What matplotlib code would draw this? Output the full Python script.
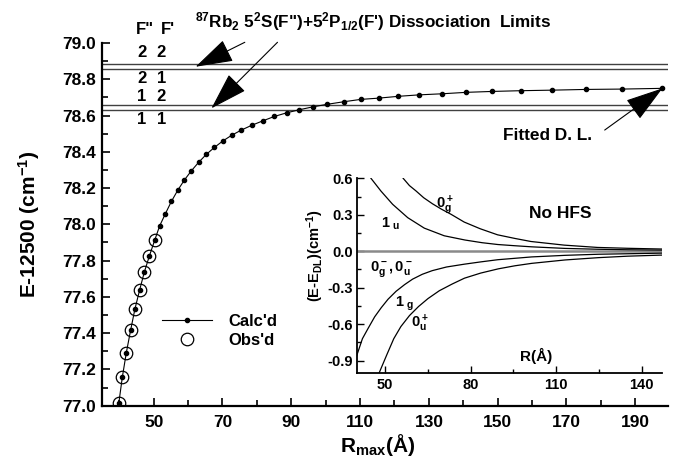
import matplotlib
matplotlib.use("Agg")
import matplotlib.pyplot as plt
from matplotlib.lines import Line2D

plt.rcParams['font.family'] = ['Liberation Sans', 'DejaVu Sans']
plt.rcParams['font.weight'] = 'bold'
plt.rcParams['mathtext.fontset'] = 'custom'
plt.rcParams['mathtext.rm'] = 'Liberation Sans:bold'
plt.rcParams['mathtext.it'] = 'Liberation Sans:bold'
plt.rcParams['mathtext.bf'] = 'Liberation Sans:bold'
plt.rcParams['mathtext.sf'] = 'Liberation Sans:bold'

# ---- main data ----
calc_r = [39.9, 40.9, 42.06, 43.31, 44.56, 45.93, 47.3, 48.75, 50.3, 51.74, 53.4,
          55.15, 56.98, 58.92, 60.96, 63.08, 65.32, 67.65, 70.06, 72.67, 75.49,
          78.49, 81.77, 85.09, 88.66, 92.35, 96.31, 100.44, 105.23, 110.17,
          115.41, 121.13, 127.12, 133.81, 140.9, 148.46, 156.69, 165.78, 175.58,
          186.25, 197.88]
calc_e = [77.017, 77.157, 77.292, 77.416, 77.533, 77.638, 77.737, 77.825, 77.912,
          77.991, 78.058, 78.126, 78.187, 78.244, 78.295, 78.342, 78.386, 78.424,
          78.459, 78.491, 78.520, 78.546, 78.571, 78.595, 78.615, 78.632, 78.648,
          78.662, 78.676, 78.689, 78.696, 78.706, 78.714, 78.720, 78.728, 78.733,
          78.737, 78.740, 78.744, 78.746, 78.750]
obs_r = [39.9, 40.9, 42.06, 43.31, 44.56, 45.93, 47.3, 48.75, 50.3]
obs_e = [77.017, 77.157, 77.292, 77.416, 77.533, 77.638, 77.737, 77.825, 77.912]
dl_levels = [78.884, 78.856, 78.656, 78.630]
f_pairs = [("2", "2"), ("2", "1"), ("1", "2"), ("1", "1")]
f_rows = [78.945, 78.805, 78.704, 78.579]

main_xticks = [50, 70, 90, 110, 130, 150, 170, 190]
main_yticks = [77.0, 77.2, 77.4, 77.6, 77.8, 78.0, 78.2, 78.4, 78.6, 78.8, 79.0]

# ---- inset data ----
og_plus_r = [56.3, 58.5, 60.8, 63.5, 66.6, 69.8, 73.0, 77.7, 83.3, 89.4, 95.5, 101.1, 112.8, 124.5, 135, 147]
og_plus_v = [0.60, 0.54, 0.496, 0.44, 0.39, 0.345, 0.305, 0.24, 0.185, 0.135, 0.105, 0.08, 0.05, 0.031, 0.024, 0.018]
u1_r = [45.0, 48.5, 52.6, 57.9, 63.7, 70.7, 78.0, 84.0, 89.5, 95.5, 101.4, 113.1, 124.8, 135, 147]
u1_v = [0.60, 0.495, 0.386, 0.276, 0.19, 0.127, 0.092, 0.070, 0.055, 0.045, 0.036, 0.023, 0.016, 0.012, 0.009]
g1_r = [40.0, 42.0, 44.0, 46.3, 48.6, 51.0, 53.8, 56.8, 59.6, 63.0, 66.5, 71.5, 77.7, 83.5, 89.5, 101.4, 113.1, 124.8, 147]
g1_v = [-0.86, -0.72, -0.635, -0.54, -0.465, -0.395, -0.33, -0.275, -0.23, -0.19, -0.16, -0.13, -0.107, -0.088, -0.070, -0.047, -0.034, -0.025, -0.016]
ou_plus_r = [47.9, 50.6, 53.0, 55.5, 58.5, 61.7, 65.0, 69.0, 73.5, 77.8, 83.5, 89.7, 95.5, 101.4, 113.1, 124.8, 135, 147]
ou_plus_v = [-1.0, -0.85, -0.72, -0.62, -0.53, -0.455, -0.39, -0.325, -0.27, -0.222, -0.180, -0.145, -0.120, -0.100, -0.072, -0.053, -0.041, -0.032]
zero_r = [40, 147]
zero_v = [0.0, 0.0]
inset_xticks = [50, 80, 110, 140]
inset_yticks = [-0.9, -0.6, -0.3, 0.0, 0.3, 0.6]

fig = plt.figure(figsize=(6.77, 4.67), dpi=100)
ax = fig.add_axes([0.1507, 0.1313, 0.836, 0.7766])

for lv in dl_levels:
    ax.axhline(lv, color='#404040', lw=1.0)
ax.plot(calc_r, calc_e, color='black', lw=0.8, marker='o', markersize=3.0, zorder=3)
ax.plot(obs_r, obs_e, linestyle='none', marker='o', markersize=9, mfc='none',
        mec='black', mew=0.9, zorder=4)

ax.set_xlim(35, 199.5)
ax.set_ylim(77.0, 79.0)
ax.set_xticks(main_xticks)
ax.set_xticks([40, 60, 80, 100, 120, 140, 160, 180], minor=True)
ax.set_yticks(main_yticks)
ax.set_yticklabels([f"{v:.1f}" for v in main_yticks])
ax.set_yticks([77.1 + 0.2 * i for i in range(10)], minor=True)
ax.tick_params(axis='both', which='both', direction='in', width=1.2)
ax.tick_params(axis='both', which='major', length=6, labelsize=12.5)
ax.tick_params(axis='both', which='minor', length=4)
ax.tick_params(axis='x', pad=7)
ax.tick_params(axis='y', pad=4)
for s in ['top', 'right']:
    ax.spines[s].set_visible(False)
for s in ['left', 'bottom']:
    ax.spines[s].set_linewidth(1.6)

ax.set_ylabel("E-12500 (cm$^{-1}$)", fontsize=15, fontweight='bold')
ax.yaxis.set_label_coords(-0.106, 0.5)
ax.set_xlabel("R$_{max}$(Å)", fontsize=15, fontweight='bold')
ax.xaxis.set_label_coords(0.486, -0.072)

# F labels
ax.text(47.4, 79.072, 'F"', ha='center', va='center', fontsize=12, fontweight='bold', clip_on=False)
ax.text(54.1, 79.072, "F'", ha='center', va='center', fontsize=12, fontweight='bold', clip_on=False)
for (a, b), yv in zip(f_pairs, f_rows):
    ax.text(46.5, yv, a, ha='center', va='center', fontsize=12, fontweight='bold')
    ax.text(52.2, yv, b, ha='center', va='center', fontsize=12, fontweight='bold')

ax.text(61.9, 79.116, "$^{87}$Rb$_2$ 5$^2$S(F\")+5$^2$P$_{1/2}$(F') Dissociation  Limits",
        ha='left', va='center', fontsize=12.3, clip_on=False)

arrow_kw = dict(arrowstyle='-|>,head_length=1.6,head_width=0.5', color='black',
                lw=0.8, mutation_scale=15, shrinkA=0, shrinkB=0)
ax.annotate('', xy=(62.2, 78.869), xytext=(76.5, 79.004), arrowprops=arrow_kw,
            annotation_clip=False)
ax.annotate('', xy=(66.8, 78.64), xytext=(86.0, 79.004), arrowprops=arrow_kw,
            annotation_clip=False)
ax.annotate('', xy=(197.88, 78.75), xytext=(181.1, 78.52), arrowprops=arrow_kw,
            annotation_clip=False)
ax.text(177.5, 78.49, "Fitted D. L.", ha='right', va='center', fontsize=12.4)

handles = [Line2D([], [], color='black', lw=0.8, marker='o', markersize=3.0),
           Line2D([], [], linestyle='none', marker='o', markersize=9, mfc='none',
                  mec='black', mew=0.9)]
ax.legend(handles, ["Calc'd", "Obs'd"], loc='center left', bbox_to_anchor=(0.08, 0.206),
          frameon=False, fontsize=12, handlelength=3.0, handletextpad=0.96,
          labelspacing=0.27)

# ---- inset ----
ax2 = fig.add_axes([0.5269, 0.2019, 0.4505, 0.4163])
ax2.plot(zero_r, zero_v, color='#8a8a8a', lw=1.8)
ax2.plot(og_plus_r, og_plus_v, color='black', lw=0.9)
ax2.plot(u1_r, u1_v, color='black', lw=0.9)
ax2.plot(g1_r, g1_v, color='black', lw=0.9)
ax2.plot(ou_plus_r, ou_plus_v, color='black', lw=0.9)
ax2.set_xlim(40, 147)
ax2.set_ylim(-1.0, 0.6)
ax2.set_xticks(inset_xticks)
ax2.set_xticks([65, 95, 125], minor=True)
ax2.set_yticks(inset_yticks)
ax2.set_yticklabels([f"{v:.1f}" for v in inset_yticks])
ax2.set_yticks([-0.75, -0.45, -0.15, 0.15, 0.45], minor=True)
ax2.tick_params(axis='both', which='both', direction='in', width=1.0)
ax2.tick_params(axis='both', which='major', length=5, labelsize=10.5)
ax2.tick_params(axis='both', which='minor', length=3)
ax2.tick_params(axis='x', pad=4)
ax2.tick_params(axis='y', pad=3)
for s in ['top', 'right']:
    ax2.spines[s].set_visible(False)
for s in ['left', 'bottom']:
    ax2.spines[s].set_linewidth(1.3)
ax2.set_ylabel("(E-E$_{DL}$)(cm$^{-1}$)", fontsize=10.5, fontweight='bold')
ax2.yaxis.set_label_coords(-0.10, 0.60)

ax2.text(71.0, 0.38, "$0_g^+$", ha='center', va='center', fontsize=10.5)
ax2.text(51.8, 0.224, "$1_{\\ u}$", ha='center', va='center', fontsize=10.5)
ax2.text(52.1, -0.145, "$0_g^-, 0_u^-$", ha='center', va='center', fontsize=10.5)
ax2.text(56.7, -0.433, "$1_{\\ g}$", ha='center', va='center', fontsize=10.5)
ax2.text(62.3, -0.597, "$0_u^+$", ha='center', va='center', fontsize=10.5)
ax2.text(111.3, 0.31, "No HFS", ha='center', va='center', fontsize=12.5)
ax2.text(102.9, -0.86, "R(Å)", ha='center', va='center', fontsize=11)

fig.savefig("out.png", dpi=100)
